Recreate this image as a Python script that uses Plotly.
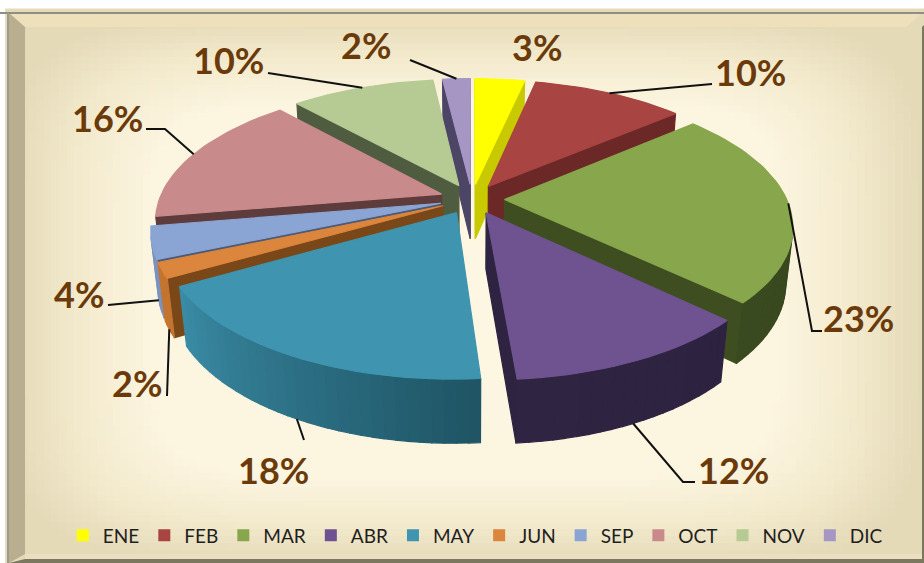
import math
import numpy as np
import plotly.graph_objects as go

# ---- data ----
months = ["ENE", "FEB", "MAR", "ABR", "MAY", "JUN", "SEP", "OCT", "NOV", "DIC"]
values = [3.4, 10.4, 23.4, 11.6, 18.0, 1.8, 3.8, 16.0, 9.8, 1.9]
top_colors = ["#FFFF00", "#A84442", "#88A64C", "#6F5391", "#3F95AF", "#DC853C", "#8AA5D3", "#C98A8C", "#B6CA94", "#A696C4"]
cut_colors = ["#C9C900", "#6C2827", "#3F4E20", "#2E2340", "#25606F", "#7A4818", "#4A5A78", "#5E3C3C", "#4F5C40", "#4C4566"]
rim_start = ["#C9C900", "#7A2E2C", "#36441C", "#2D2340", "#1F5565", "#C4752F", "#7C93BE", "#A06C6E", "#8FA275", "#857AA0"]
rim_end = ["#C9C900", "#7A2E2C", "#3A4A20", "#2F2542", "#3A8BA5", "#C4752F", "#7C93BE", "#A06C6E", "#8FA275", "#857AA0"]

# ---- label and leader layout (pixels) ----
label_pos = [(537, 47), (750, 72), (858, 318), (733, 470), (273, 470), (137, 383), (79, 294), (107, 118), (228, 60), (366, 45)]
leader_knees = [[], [(712, 84)], [(812, 331), (822, 331)], [(683, 482), (695, 482)], [(304, 440)],
                [(167, 396)], [(108, 305)], [(165, 129), (146, 129)], [(268, 73)], [(410, 60)]]
leader_on_floor = [False, False, False, True, True, True, True, False, False, False]

# ---- projection of the tilted pie ----
CX, CY = 472, 199
ELEV = math.radians(27.5)
DIST, FOCAL = 4.8, 1354
THICK = 0.225
PULL = 0.115
S, C = math.sin(ELEV), math.cos(ELEV)


def proj(x, y, z):
    d = DIST + y * C - z * S
    return CX + FOCAL * x / d, CY + FOCAL * (-y * S - z * C) / d


def mix(a, b, t):
    ca = [int(a[i:i + 2], 16) for i in (1, 3, 5)]
    cb = [int(b[i:i + 2], 16) for i in (1, 3, 5)]
    return "rgb(%d,%d,%d)" % tuple(round(p + (q - p) * t) for p, q in zip(ca, cb))


def area(pts):
    s = 0
    for i in range(len(pts)):
        x1, y1 = pts[i]
        x2, y2 = pts[(i + 1) % len(pts)]
        s += x1 * y2 - x2 * y1
    return s


fig = go.Figure()

# background gradient
gx = np.linspace(9, 922, 120)
gy = np.linspace(12, 560, 80)
u = np.abs(gx - 465) / 456
v = np.abs(gy - 290) / 274
U, V = np.meshgrid(u, v)
glow = np.clip((U ** 6 + V ** 6) ** (1 / 6), 0, 1)
fig.add_trace(go.Heatmap(x=gx, y=gy, z=glow, zmin=0, zmax=1, showscale=False, hoverinfo="skip",
                         colorscale=[[0, "#FDF6E2"], [0.68, "#FCF5E0"], [0.85, "#F3EACD"], [1, "#E4DAB8"]]))


def poly(pts, color):
    xs = [p[0] for p in pts] + [pts[0][0]]
    ys = [p[1] for p in pts] + [pts[0][1]]
    fig.add_trace(go.Scatter(x=xs, y=ys, mode="lines", fill="toself", fillcolor=color,
                             line=dict(color=color, width=1.2), hoverinfo="skip", showlegend=False))


total = sum(values)
slices = []
acc = 0
for i, val in enumerate(values):
    t1 = acc / total * 2 * math.pi
    acc += val
    t2 = acc / total * 2 * math.pi
    slices.append((i, t1, t2, (t1 + t2) / 2))

rim_anchor = {}
for i, t1, t2, mid in sorted(slices, key=lambda s: -math.cos(s[3])):
    ox, oy = PULL * math.sin(mid), PULL * math.cos(mid)
    pt = lambda t, z: proj(ox + math.sin(t), oy + math.cos(t), z)
    ap = lambda z: proj(ox, oy, z)
    n = max(4, int((t2 - t1) / math.radians(2)))
    ts = [t1 + (t2 - t1) * k / n for k in range(n + 1)]
    # cut faces
    for quad in ([pt(t2, 0), ap(0), ap(-THICK), pt(t2, -THICK)], [ap(0), pt(t1, 0), pt(t1, -THICK), ap(-THICK)]):
        if area(quad) < 0:
            poly(quad, cut_colors[i])
    # outer rim
    for k in range(n):
        quad = [pt(ts[k], 0), pt(ts[k + 1], 0), pt(ts[k + 1], -THICK), pt(ts[k], -THICK)]
        if area(quad) < 0:
            poly(quad, mix(rim_start[i], rim_end[i], k / max(n - 1, 1)))
    # top face
    poly([ap(0)] + [pt(t, 0) for t in ts], top_colors[i])
    rim_anchor[i] = pt(mid, -THICK if leader_on_floor[i] else 0)

# leader lines
for i in range(len(values)):
    if leader_knees[i]:
        pts = [rim_anchor[i]] + leader_knees[i]
        fig.add_trace(go.Scatter(x=[p[0] for p in pts], y=[p[1] for p in pts], mode="lines",
                                 line=dict(color="#111111", width=2), hoverinfo="skip", showlegend=False))

# legend entries
for m, col in zip(months, top_colors):
    fig.add_trace(go.Scatter(x=[None], y=[None], mode="markers", name=m,
                             marker=dict(symbol="square", size=15, color=col)))

# data labels
for val, (lx, ly) in zip(values, label_pos):
    fig.add_annotation(x=lx, y=ly, text=f"{round(val)}%", showarrow=False, xref="x", yref="y",
                       font=dict(family="Lato", size=36, color="#6B3A0A", weight="bold"))

# bevelled frame
L, T, R, B, W = 9, 13, 922, 559, 16
bevels = [
    ([(L, T), (R, T), (R - W, T + 14), (L + W, T + 14)], "#EFE0BC"),
    ([(L, T), (L + W, T + 14), (L + W, B - 5), (L, 563)], "#B9AF90"),
    ([(L + W, B - 5), (R, B - 5), (R, B), (L + W, B)], "#EADFC0"),
    ([(L, 563), (L + W, B), (924, B), (924, 563)], "#7C7860"),
    ([(R, T + 14), (924, T + 12), (924, 563), (R, 563)], "#7C7860"),
    ([(0, T - 1), (924, T - 1), (924, T + 1), (0, T + 1)], "#8E8E86"),
    ([(L - 2, T), (L, T), (L, 563), (L - 2, 563)], "#9A9A90"),
]
shapes = []
for pts, col in bevels:
    path = "M " + " L ".join(f"{x},{y}" for x, y in pts) + " Z"
    shapes.append(dict(type="path", path=path, fillcolor=col, line=dict(width=0), layer="above", xref="x", yref="y"))

fig.update_layout(
    width=924, height=563, autosize=False,
    margin=dict(l=0, r=0, t=0, b=0),
    paper_bgcolor="white", plot_bgcolor="white",
    xaxis=dict(range=[0, 924], visible=False, fixedrange=True),
    yaxis=dict(range=[563, 0], visible=False, fixedrange=True),
    shapes=shapes,
    showlegend=True,
    legend=dict(orientation="h", x=0.068, xanchor="left", y=0.049, yanchor="middle",
                font=dict(family="Lato", size=19, color="#1F1F1F"), bgcolor="rgba(0,0,0,0)",
                itemsizing="constant"),
)
fig.write_html("out.html", config={"displayModeBar": False},
               post_script="document.body.style.margin='0';document.documentElement.style.overflow='hidden';")
